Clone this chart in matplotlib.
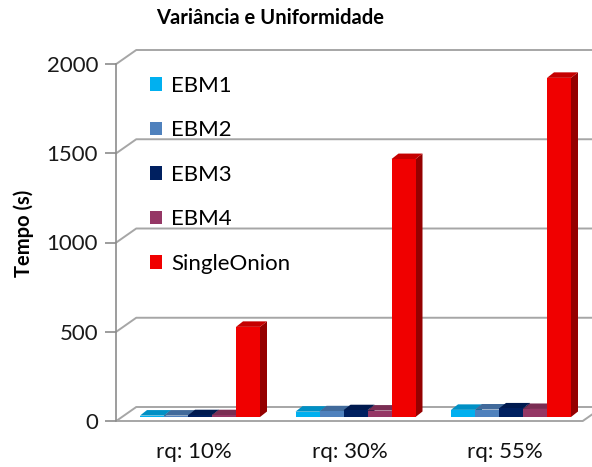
import numpy as np
import matplotlib
matplotlib.use("Agg")
import matplotlib.pyplot as plt
from matplotlib.patches import Polygon, Patch

plt.rcParams["font.family"] = ["Lato", "DejaVu Sans"]

# ── data ─────────────────────────────────────────────────────────────────────
categories = ["rq: 10%", "rq: 30%", "rq: 55%"]
series     = ["EBM1", "EBM2", "EBM3", "EBM4", "SingleOnion"]
ebm1       = [8, 30, 40]
ebm2       = [8, 32, 42]
ebm3       = [10, 38, 48]
ebm4       = [10, 36, 45]
single     = [505, 1445, 1900]
colors     = ["#00b0f0", "#4f81bd", "#002060", "#953765", "#f00000"]
yticks     = [0, 500, 1000, 1500, 2000]

values = [ebm1, ebm2, ebm3, ebm4, single]

# ── figure / axes geometry (pixels at dpi=100) ───────────────────────────────
W, H = 592, 467
fig = plt.figure(figsize=(W / 100, H / 100), dpi=100)
ax_l, ax_b, ax_w, ax_h = 116.25, 46, 466.5, 357
ax = fig.add_axes([ax_l / W, ax_b / H, ax_w / W, ax_h / H])
ax.set_xlim(-0.5, 2.5)
ax.set_ylim(0, 2000)

px_x = ax_w / 3.0          # pixels per category unit
px_y = ax_h / 2000.0       # pixels per value unit

def depth(dx_px, dy_px):
    """pixel offset of the 3-D depth axis -> data units"""
    return dx_px / px_x, dy_px / px_y

fdx, fdy = depth(20, 14)   # floor / wall depth
bdx, bdy = depth(6, 4)     # front plane of the bars
sdx, sdy = depth(7, 5.5)   # bar thickness
bw = 24 / px_x             # bar width

grid_c = "#a6a6a6"

# floor
x0, x1 = ax.get_xlim()
ax.add_patch(Polygon([(x0, 0), (x1, 0), (x1 + fdx, fdy), (x0 + fdx, fdy)],
                     closed=True, fc="white", ec=grid_c, lw=1.4,
                     clip_on=False, zorder=1))

# wall gridlines: short slant on the side wall, then across the back wall
for v in yticks[1:]:
    ax.plot([x0, x0 + fdx, x1 + fdx], [v, v + fdy, v + fdy],
            color=grid_c, lw=1.4, clip_on=False, zorder=1)

# ── pseudo-3D columns ────────────────────────────────────────────────────────
def shade(c, f):
    r, g, b = matplotlib.colors.to_rgb(c)
    return (r * f, g * f, b * f)

z = 3
for i in range(len(categories)):
    for j, (vals, c) in enumerate(zip(values, colors)):
        h = vals[i]
        left = i + (j - 2.5) * bw + bdx
        right = left + bw
        b0 = bdy
        side = [(right, b0), (right, b0 + h), (right + sdx, b0 + h + sdy),
                (right + sdx, b0 + sdy)]
        top = [(left, b0 + h), (right, b0 + h), (right + sdx, b0 + h + sdy),
               (left + sdx, b0 + h + sdy)]
        ax.add_patch(Polygon(side, closed=True, fc=shade(c, 0.62), ec="none",
                             clip_on=False, zorder=z))
        ax.add_patch(Polygon(top, closed=True, fc=shade(c, 0.82), ec="none",
                             clip_on=False, zorder=z))
        ax.bar(left, h, width=bw, bottom=b0, align="edge", color=c,
               edgecolor="none", clip_on=False, zorder=z + 0.5)
        z += 1

# ── axes decoration ──────────────────────────────────────────────────────────
for s in ["top", "right", "bottom"]:
    ax.spines[s].set_visible(False)
ax.spines["left"].set_color("#8c8c8c")
ax.spines["left"].set_linewidth(1.2)
ax.spines["left"].set_bounds(0, 2000)
ax.set_yticks(yticks)
ax.tick_params(axis="y", direction="out", length=8, width=1.2,
               color="#8c8c8c", labelsize=16, labelcolor="#1a1a1a", pad=5)
ax.set_xticks(range(len(categories)))
ax.set_xticklabels(categories)
ax.tick_params(axis="x", length=0, labelsize=16, labelcolor="#111111", pad=15)
ax.set_ylabel("Tempo (s)", fontsize=14.5, fontweight="bold")
ax.yaxis.set_label_coords((34 - ax_l) / ax_w, (H - 233 - ax_b) / ax_h)

fig.text(270 / W, 1 - 18 / H, "Variância e Uniformidade", ha="center",
         va="center", fontsize=14.5, fontweight="bold")

handles = [Patch(fc=c, ec="none") for c in colors]
ax.legend(handles, series, loc="upper left", frameon=False, fontsize=16,
          bbox_to_anchor=(150 / W, 1 - 76 / H), bbox_transform=fig.transFigure,
          handlelength=0.55, handleheight=0.55, handletextpad=0.4,
          labelspacing=1.1, borderpad=0, borderaxespad=0)

fig.savefig("out.png", dpi=100)
